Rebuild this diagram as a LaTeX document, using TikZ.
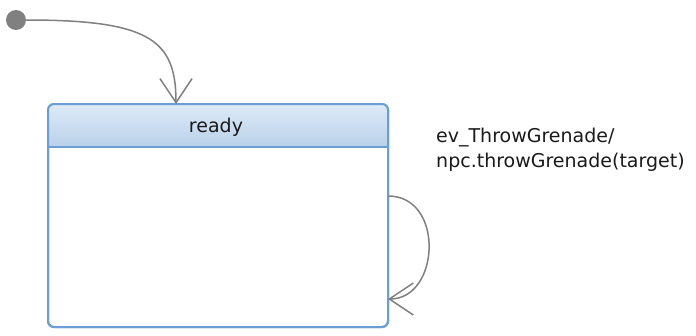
\documentclass[tikz,border=0pt]{standalone}
\usepackage{fontspec}
\setmainfont{DejaVu Sans}
\usetikzlibrary{arrows.meta}
\definecolor{stateline}{HTML}{6A9FD6}
\definecolor{headtop}{HTML}{DEEBF8}
\definecolor{headbot}{HTML}{BAD1EA}
\definecolor{transgray}{HTML}{808080}
\definecolor{labeltext}{HTML}{1A1A1A}

\begin{document}
\begin{tikzpicture}[x=1pt,y=1pt,
    statebox/.style={draw=stateline,line width=2pt,rounded corners=6pt,
        minimum width=340pt,minimum height=223pt,inner sep=0pt},
    initdot/.style={circle,fill=transgray,minimum size=20pt,inner sep=0pt},
    trans/.style={draw=transgray,line width=1.5pt,
        -{Straight Barb[length=24pt,width=32pt,line width=1.5pt]}},
    guard/.style={font=\fontsize{19}{25}\selectfont,text=labeltext,align=left,inner sep=0pt}]
    \useasboundingbox (0,0) rectangle (696,-335);

    % state with shaded header
    \node[statebox] (ready) at (218,-215.5) {};
    \begin{scope}
        \clip[rounded corners=6pt] (ready.north west) rectangle (ready.south east);
        \shade[top color=headtop,bottom color=headbot]
            (ready.north west) rectangle ([yshift=-44pt]ready.north east);
    \end{scope}
    \draw[stateline,line width=2pt] ([yshift=-44pt]ready.north west) -- ([yshift=-44pt]ready.north east);
    \node[statebox] at (ready) {};
    \node[guard] (title) at (216,-127) {ready};

    % initial pseudo state
    \node[initdot] (init) at (16,-20) {};
    \coordinate (entry) at (176,-104);
    \draw[trans] (init.east) .. controls (150,-20) and (176,-40) .. (entry);

    % self transition
    \coordinate (loopout) at (388,-196);
    \coordinate (loopback) at (388,-299);
    \draw[trans] (loopout) .. controls (445,-196) and (440,-299) .. (loopback);
    \node[guard,anchor=north west] (label) at (436,-128)
        {ev\_ThrowGrenade/\\npc.throwGrenade(target)};
\end{tikzpicture}
\end{document}
